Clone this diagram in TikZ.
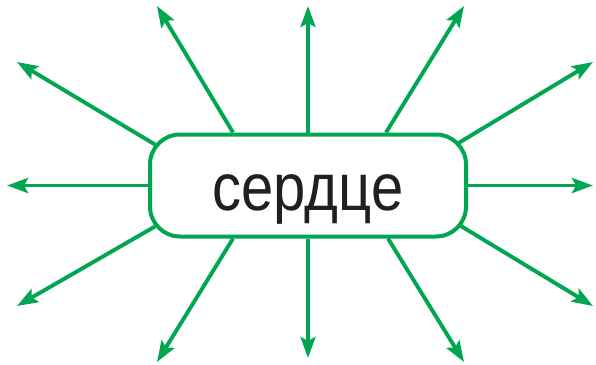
\documentclass[tikz,border=0pt]{standalone}
\usepackage{fontspec}
\setmainfont{Liberation Sans}
\usetikzlibrary{arrows.meta,calc}
\definecolor{heartgreen}{RGB}{0,166,81}
\definecolor{heartink}{RGB}{35,31,32}
\tikzset{
  heartbox/.style={draw=heartgreen, line width=4pt, rounded corners=30pt,
    minimum width=316pt, minimum height=102pt, inner sep=0pt, fill=white,
    text=heartink, font=\fontsize{58}{64}\selectfont,
    text height=55pt, text depth=6pt},
  ray/.style={draw=heartgreen, line width=3.9pt, -{Stealth[length=21pt,width=15pt,inset=4pt]}}
}
\begin{document}
\begin{tikzpicture}[x=1pt,y=-1pt]
  \useasboundingbox (0,0) rectangle (596,364);
  \node[heartbox] (heart) at (308,185.5) {\scalebox{1}[1.15]{сердце}};
  % tips of the rays
  \foreach \n/\x/\y in {up/308/6, down/308/358, left/7/185.5, right/593/185.5,
      ulsteep/157/6, ulflat/17/62, ursteep/464/6, urflat/593/62,
      dlsteep/157/362, dlflat/17/306, drsteep/464/362, drflat/593/306}
    \coordinate (\n) at (\x,\y);
  \draw[ray] (heart.north) -- (up);
  \draw[ray] (heart.south) -- (down);
  \draw[ray] (heart.west) -- (left);
  \draw[ray] (heart.east) -- (right);
  \draw[ray] ($(heart.north)+(-75,0)$) -- (ulsteep);
  \draw[ray] ($(heart.north)+(78,0)$) -- (ursteep);
  \draw[ray] ($(heart.south)+(-75,0)$) -- (dlsteep);
  \draw[ray] ($(heart.south)+(80,0)$) -- (drsteep);
  \draw[ray] ($(heart.north west)+(7,12)$) -- (ulflat);
  \draw[ray] ($(heart.north east)+(-12,12)$) -- (urflat);
  \draw[ray] ($(heart.south west)+(7,-12)$) -- (dlflat);
  \draw[ray] ($(heart.south east)+(-8,-13)$) -- (drflat);
\end{tikzpicture}
\end{document}
